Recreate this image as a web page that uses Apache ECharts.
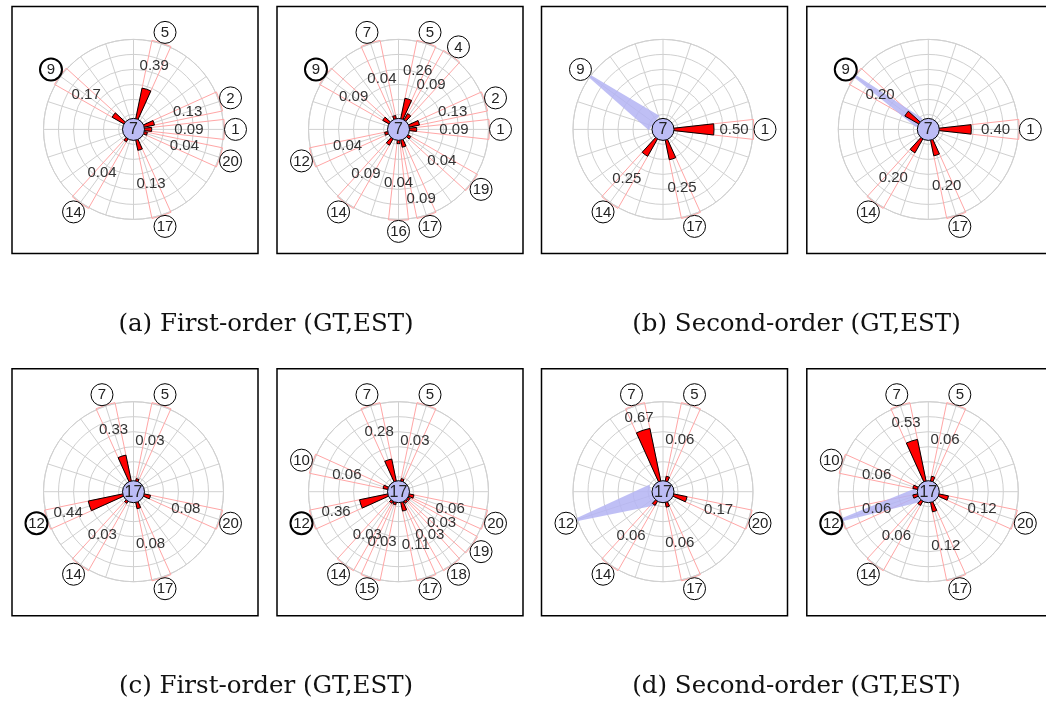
<!DOCTYPE html>
<html><head><meta charset="utf-8">
<script src="https://cdn.jsdelivr.net/npm/echarts@6/dist/echarts.min.js"></script>
<style>html,body{margin:0;padding:0;background:#fff}#c{width:1046px;height:702px}</style>
</head><body><div id="c"></div>
<script>
// ---------------- DATA ----------------
// nodes sit on a ring: node k points in direction (k-1)*360/nodeCount degrees
const nodeCount = 20;
const topCenterNode = 7, bottomCenterNode = 17;
const topFocusNode = 9, bottomFocusNode = 12;

const aGTNodes = [5, 9, 2, 1, 20, 14, 17];
const aGTValues = [0.39, 0.17, 0.13, 0.09, 0.04, 0.04, 0.13];
const aESTNodes = [7, 5, 4, 9, 2, 1, 12, 19, 14, 16, 17];
const aESTValues = [0.04, 0.26, 0.09, 0.09, 0.13, 0.09, 0.04, 0.04, 0.09, 0.04, 0.09];

const bGTNodes = [1, 14, 17];
const bGTValues = [0.50, 0.25, 0.25];
const bGTSecond = 0.5;
const bESTNodes = [9, 1, 14, 17];
const bESTValues = [0.20, 0.40, 0.20, 0.20];
const bESTSecond = 0.3;

const cGTNodes = [7, 5, 12, 20, 14, 17];
const cGTValues = [0.33, 0.03, 0.44, 0.08, 0.03, 0.08];
const cESTNodes = [7, 5, 10, 12, 20, 19, 18, 17, 15, 14];
const cESTValues = [0.28, 0.03, 0.06, 0.36, 0.06, 0.03, 0.03, 0.11, 0.03, 0.03];

const dGTNodes = [7, 5, 20, 14, 17];
const dGTValues = [0.67, 0.06, 0.17, 0.06, 0.06];
const dGTSecond = 0.6;
const dESTNodes = [7, 5, 10, 12, 20, 14, 17];
const dESTValues = [0.53, 0.06, 0.06, 0.06, 0.12, 0.06, 0.12];
const dESTSecond = 0.4;

const captions = ['(a) First-order (GT,EST)', '(b) Second-order (GT,EST)',
                  '(c) First-order (GT,EST)', '(d) Second-order (GT,EST)'];

// ---------------- LAYOUT / STYLE ----------------
const PANEL_X = [133.5, 398.5, 663, 928.3];
const PANEL_Y = [129.4, 491.7];
const CAPTION_X = [266, 796.5];
const CAPTION_Y = [325, 687];
const RING_R = 90, NODE_R = 11, LABEL_R = 102, HALF_W = 6.3;
const BAR_BASE = 11, BAR_SCALE = 80, PINK_R = 91;
const GRID = '#d0d0d0', PINK = '#ffa6a6', LAV = '#bcbcf5';
const SANS = '"Liberation Sans", Arial, sans-serif';

const panels = [
  {nodes: aGTNodes, values: aGTValues, center: topCenterNode, focus: topFocusNode, second: null},
  {nodes: aESTNodes, values: aESTValues, center: topCenterNode, focus: topFocusNode, second: null},
  {nodes: bGTNodes, values: bGTValues, center: topCenterNode, focus: topFocusNode, second: bGTSecond},
  {nodes: bESTNodes, values: bESTValues, center: topCenterNode, focus: topFocusNode, second: bESTSecond},
  {nodes: cGTNodes, values: cGTValues, center: bottomCenterNode, focus: bottomFocusNode, second: null},
  {nodes: cESTNodes, values: cESTValues, center: bottomCenterNode, focus: bottomFocusNode, second: null},
  {nodes: dGTNodes, values: dGTValues, center: bottomCenterNode, focus: bottomFocusNode, second: dGTSecond},
  {nodes: dESTNodes, values: dESTValues, center: bottomCenterNode, focus: bottomFocusNode, second: dESTSecond}
];
const nodeAngle = n => (n - 1) * 360 / nodeCount;

// value-label radius, pushed outward when it would collide with a previous label
function labelRadii(p) {
  const placed = [], out = [];
  const W = 30, H = 11;
  p.nodes.forEach((n, j) => {
    const a = nodeAngle(n) * Math.PI / 180;
    let r = 52 + 38 * p.values[j];
    const ov = rr => {
      const x = rr * Math.cos(a), y = rr * Math.sin(a);
      let m = 0;
      placed.forEach(q => {
        const ox = Math.max(0, W - Math.abs(x - q[0])), oy = Math.max(0, H - Math.abs(y - q[1]));
        m = Math.max(m, ox * oy / (W * H));
      });
      return m;
    };
    if (ov(r) > 0.3) { while (ov(r) > 0) r += 1; r += 5; }
    placed.push([r * Math.cos(a), r * Math.sin(a)]);
    out.push(r);
  });
  return out;
}

function geom(api, ang) {
  const c = api.coord([0, ang]);
  const dist = v => { const p = api.coord([v, ang]); return Math.hypot(p[0] - c[0], p[1] - c[1]); };
  const sa = a => { const p = api.coord([RING_R, a]); return Math.atan2(p[1] - c[1], p[0] - c[0]); };
  let s = sa(ang + HALF_W), e = sa(ang - HALF_W);
  let d = e - s; d = ((d % (2 * Math.PI)) + 2 * Math.PI) % (2 * Math.PI);
  return {c, dist, s, e: s + d};
}
function txt(x, y, text, font, fill) {
  return {type: 'text', x: x, y: y, style: {text: text, font: font, fill: fill,
    align: 'center', verticalAlign: 'middle', textAlign: 'center', textVerticalAlign: 'middle'}};
}

const polar = [], angleAxis = [], radiusAxis = [], series = [], graphic = [];
panels.forEach((p, i) => {
  const cx = PANEL_X[i % 4], cy = PANEL_Y[Math.floor(i / 4)];
  polar.push({center: [cx, cy], radius: [0, RING_R]});
  angleAxis.push({polarIndex: i, type: 'value', min: 0, max: 360, interval: 18, startAngle: 0, clockwise: false,
    axisLine: {show: true, lineStyle: {color: GRID, width: 1}}, axisTick: {show: false}, axisLabel: {show: false},
    splitLine: {show: true, lineStyle: {color: GRID, width: 1}}});
  radiusAxis.push({polarIndex: i, type: 'value', min: 0, max: RING_R, interval: 15,
    axisLine: {show: false}, axisTick: {show: false}, axisLabel: {show: false},
    splitLine: {show: true, lineStyle: {color: GRID, width: 1}}});
  graphic.push({type: 'rect', shape: {x: cx - 121.5, y: cy - 123, width: 246, height: 247},
    style: {fill: 'none', stroke: '#000', lineWidth: 1.5}, z: 0});

  const lr = labelRadii(p);
  const barData = p.nodes.map((n, j) => [p.values[j], nodeAngle(n), lr[j]]);
  const base = {type: 'custom', coordinateSystem: 'polar', polarIndex: i, silent: true, animation: false, clip: false};

  // pink outline sectors
  series.push(Object.assign({}, base, {z: 2, data: barData, renderItem: (params, api) => {
    const g = geom(api, api.value(1));
    return {type: 'sector', shape: {cx: g.c[0], cy: g.c[1], r0: 0, r: g.dist(PINK_R), startAngle: g.s, endAngle: g.e, clockwise: true},
      style: {fill: 'none', stroke: PINK, lineWidth: 1}};
  }}));
  // second-order link (blue wedge)
  if (p.second !== null) {
    series.push(Object.assign({}, base, {z: 3, data: [[p.second, nodeAngle(p.focus)]], renderItem: (params, api) => {
      const ang = api.value(1), w = 18 * api.value(0);
      const c = api.coord([0, ang]), t = api.coord([RING_R, ang]);
      const ux = (t[0] - c[0]) / RING_R, uy = (t[1] - c[1]) / RING_R, nx = -uy, ny = ux;
      const b0 = api.coord([NODE_R, ang]);
      return {type: 'polygon', shape: {points: [
        [b0[0] + nx * w, b0[1] + ny * w], [t[0] + nx * 1.5, t[1] + ny * 1.5],
        [t[0] - nx * 1.5, t[1] - ny * 1.5], [b0[0] - nx * w, b0[1] - ny * w]]},
        style: {fill: '#b4b4f3', opacity: 0.85}};
    }}));
  }
  // red bars
  series.push(Object.assign({}, base, {z: 4, data: barData, renderItem: (params, api) => {
    const g = geom(api, api.value(1));
    return {type: 'sector', shape: {cx: g.c[0], cy: g.c[1], r0: 0, r: g.dist(BAR_BASE + BAR_SCALE * api.value(0)),
      startAngle: g.s, endAngle: g.e, clockwise: true}, style: {fill: '#ff0000', stroke: '#000', lineWidth: 1}};
  }}));
  // value labels
  series.push(Object.assign({}, base, {z: 5, data: barData, renderItem: (params, api) => {
    const pt = api.coord([api.value(2), api.value(1)]);
    return txt(pt[0], pt[1], api.value(0).toFixed(2), '15px ' + SANS, '#333');
  }}));
  // neighbour node labels
  const labelNodes = p.nodes.slice();
  if (p.second !== null && labelNodes.indexOf(p.focus) < 0) labelNodes.push(p.focus);
  const nodeData = labelNodes.map(n => [LABEL_R, nodeAngle(n), n,
    (n === p.focus && p.nodes.indexOf(n) >= 0) ? 2 : 1]);
  series.push(Object.assign({}, base, {z: 6, data: nodeData, renderItem: (params, api) => {
    const pt = api.coord([api.value(0), api.value(1)]);
    return {type: 'group', children: [
      {type: 'circle', shape: {cx: pt[0], cy: pt[1], r: NODE_R}, style: {fill: '#fff', stroke: '#000', lineWidth: api.value(3)}},
      txt(pt[0], pt[1] + 0.5, String(api.value(2)), '15px ' + SANS, '#222')]};
  }}));
  // centre node
  series.push(Object.assign({}, base, {z: 7, data: [[0, 0, p.center]], renderItem: (params, api) => {
    const pt = api.coord([0, 0]);
    return {type: 'group', children: [
      {type: 'circle', shape: {cx: pt[0], cy: pt[1], r: NODE_R}, style: {fill: LAV, stroke: '#000', lineWidth: 1}},
      txt(pt[0], pt[1] + 0.5, String(api.value(2)), '16px ' + SANS, '#222')]};
  }}));
});
captions.forEach((t, k) => {
  graphic.push({type: 'text', x: CAPTION_X[k % 2], y: CAPTION_Y[Math.floor(k / 2)], z: 10,
    style: {text: t, font: '24.5px "DejaVu Serif", serif', fill: '#111', align: 'center', verticalAlign: 'middle',
      textAlign: 'center', textVerticalAlign: 'middle'}});
});

const chart = echarts.init(document.getElementById('c'), null, {renderer: 'canvas'});
chart.setOption({animation: false, backgroundColor: '#fff', polar, angleAxis, radiusAxis, series, graphic});
</script></body></html>
